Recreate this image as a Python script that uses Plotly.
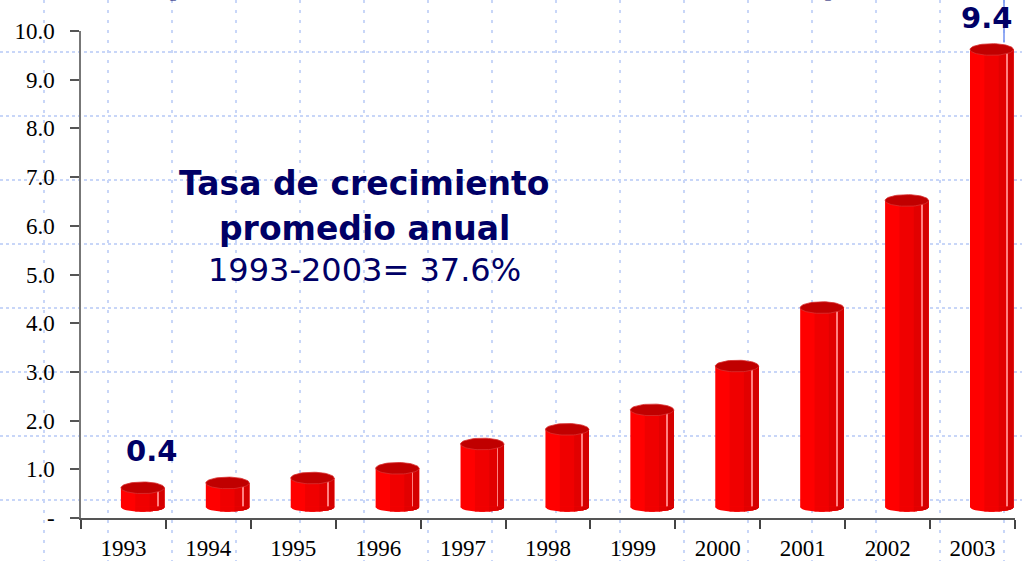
import numpy as np
import plotly.graph_objects as go

# ---------------- data ----------------
years = ["1993", "1994", "1995", "1996", "1997", "1998",
         "1999", "2000", "2001", "2002", "2003"]
values = [0.4, 0.5, 0.6, 0.8, 1.3, 1.6, 2.0, 2.9, 4.1, 6.3, 9.4]
y_tick_vals = [0, 1, 2, 3, 4, 5, 6, 7, 8, 9, 10]
y_tick_text = ["-", "1.0", "2.0", "3.0", "4.0", "5.0",
               "6.0", "7.0", "8.0", "9.0", "10.0"]
labelled_years = ["1993", "2003"]
label_texts = ["0.4", "9.4"]
box_line1 = "Tasa de crecimiento"
box_line2 = "promedio anual"
box_line3 = "1993-2003= 37.6%"
title_text = "(Miles de millones de dólares)"

# ---------------- style ----------------
W, H = 1022, 561
NAVY = "#000066"
LIFT = 0.22          # 3D lift of the cylinders
BAR_W = 0.512
BAR_OFF = -0.03
CAP_H = 0.12
BOT_H = 0.09
strips = [(0.00, "#ff0000"), (0.33, "#f00000"), (0.66, "#e20000"), (0.84, "#d40000")]

idx = np.arange(len(years))
fig = go.Figure()

# background dotted grid (whole page), pixel-based axes
fig.add_trace(go.Scatter(x=[0], y=[0], mode="markers", marker=dict(opacity=0),
                         hoverinfo="skip", showlegend=False, xaxis="x", yaxis="y"))

# bottom rounded part of cylinders, per shading strip
for k, (fa, col) in enumerate(strips):
    fb = 1.0
    xs, ys = [], []
    for i in idx:
        cx = i + BAR_OFF + BAR_W / 2
        a = BAR_W / 2
        x0 = cx - a + fa * 2 * a
        x1 = cx - a + fb * 2 * a
        xx = np.linspace(x0, x1, 25)
        t = np.clip((xx - cx) / a, -1, 1)
        yy = LIFT - BOT_H * np.sqrt(1 - t ** 2)
        xs += list(xx) + [x1, x0, None]
        ys += list(yy) + [LIFT + 0.01, LIFT + 0.01, None]
    fig.add_trace(go.Scatter(x=xs, y=ys, fill="toself", fillcolor=col, mode="none",
                             hoverinfo="skip", showlegend=False, xaxis="x2", yaxis="y2"))

# cylinder bodies
for fa, col in strips:
    fig.add_trace(go.Bar(x=idx, y=values, base=LIFT, width=BAR_W * (1 - fa),
                         offset=BAR_OFF + BAR_W * fa, marker_color=col,
                         marker_line_width=0, showlegend=False, hoverinfo="skip",
                         xaxis="x2", yaxis="y2"))
fig.add_trace(go.Bar(x=idx, y=values, base=LIFT, width=0.01,
                     offset=BAR_OFF + BAR_W * 0.84, marker_color="#ff8080",
                     marker_line_width=0, showlegend=False, hoverinfo="skip",
                     xaxis="x2", yaxis="y2"))

# top caps
th = np.linspace(0, 2 * np.pi, 60)
cx_list, cy_list = [], []
for i, v in zip(idx, values):
    cx = i + BAR_OFF + BAR_W / 2
    a = BAR_W / 2
    cx_list += list(cx + a * np.cos(th)) + [None]
    cy_list += list(v + LIFT + CAP_H * np.sin(th)) + [None]
fig.add_trace(go.Scatter(x=cx_list, y=cy_list, fill="toself", fillcolor="#c00000",
                         mode="lines", line=dict(color="#d83030", width=0.8),
                         hoverinfo="skip", showlegend=False, xaxis="x2", yaxis="y2"))

annotations = []
shifts = {"1993": (28, 48), "2003": (14, 42)}
for yr, txt in zip(labelled_years, label_texts):
    i = years.index(yr)
    annotations.append(dict(x=i, y=values[i], xref="x2", yref="y2", text="<b>%s</b>" % txt,
                            showarrow=False, xshift=shifts[yr][0], yshift=shifts[yr][1],
                            font=dict(family="DejaVu Sans", size=29, color=NAVY)))

annotations += [
    dict(x=364, y=183, xref="x", yref="y", text="<b>%s</b>" % box_line1, showarrow=False,
         font=dict(family="DejaVu Sans", size=33, color=NAVY)),
    dict(x=364, y=228, xref="x", yref="y", text="<b>%s</b>" % box_line2, showarrow=False,
         font=dict(family="DejaVu Sans", size=33, color=NAVY)),
    dict(x=364, y=270, xref="x", yref="y", text=box_line3, showarrow=False,
         font=dict(family="DejaVu Sans", size=32, color=NAVY)),
    dict(x=500, y=6, xref="x", yref="y", text="<b>%s</b>" % title_text, showarrow=False,
         yanchor="bottom", font=dict(family="DejaVu Sans", size=40, color=NAVY)),
]

x_lo, x_hi = 81, 1015
y_lo, y_hi = 518, 31

fig.update_layout(
    width=W, height=H, margin=dict(l=0, r=0, t=0, b=0),
    paper_bgcolor="white", plot_bgcolor="rgba(0,0,0,0)",
    barmode="overlay", showlegend=False, template="none",
    xaxis=dict(domain=[0, 1], range=[0, W], showticklabels=False, ticks="",
               showline=False, zeroline=False, showgrid=True,
               tickmode="array", tickvals=list(range(44, W, 64)),
               gridcolor="#c8d6f8", gridwidth=2, griddash="3px,7px", fixedrange=True),
    yaxis=dict(domain=[0, 1], range=[H, 0], showticklabels=False, ticks="",
               showline=False, zeroline=False, showgrid=True,
               tickmode="array", tickvals=list(range(52, H, 64)),
               gridcolor="#c8d6f8", gridwidth=2, griddash="3px,3px", fixedrange=True),
    xaxis2=dict(domain=[x_lo / W, x_hi / W], anchor="y2", range=[-0.5, len(years) - 0.5],
                tickmode="array", tickvals=list(idx), ticktext=years, ticks="",
                showline=True, linecolor="#555555", linewidth=1.5, showgrid=False,
                zeroline=False, ticklabelstandoff=9,
                tickfont=dict(family="Liberation Serif", size=23, color="black"),
                minor=dict(tickmode="array", tickvals=[i - 0.5 for i in range(len(years) + 1)],
                           ticks="outside", ticklen=9, tickcolor="#444444", tickwidth=1.5)),
    yaxis2=dict(domain=[(H - y_lo) / H, (H - y_hi) / H], anchor="x2", range=[0, 10],
                tickmode="array", tickvals=y_tick_vals, ticktext=y_tick_text,
                ticks="outside", ticklen=9, tickcolor="#555555", tickwidth=1.5,
                showline=True, linecolor="#777777", linewidth=1.5, showgrid=False,
                zeroline=False, ticklabelstandoff=11,
                tickfont=dict(family="Liberation Serif", size=23, color="black")),
    annotations=annotations,
    shapes=[dict(type="line", xref="x", yref="y", x0=1004, x1=1004, y0=0, y1=42,
                 line=dict(color="#7090f0", width=1.5))],
)

fig.write_html("out.html", config={"displayModeBar": False},
               post_script="document.body.style.margin='0';")
